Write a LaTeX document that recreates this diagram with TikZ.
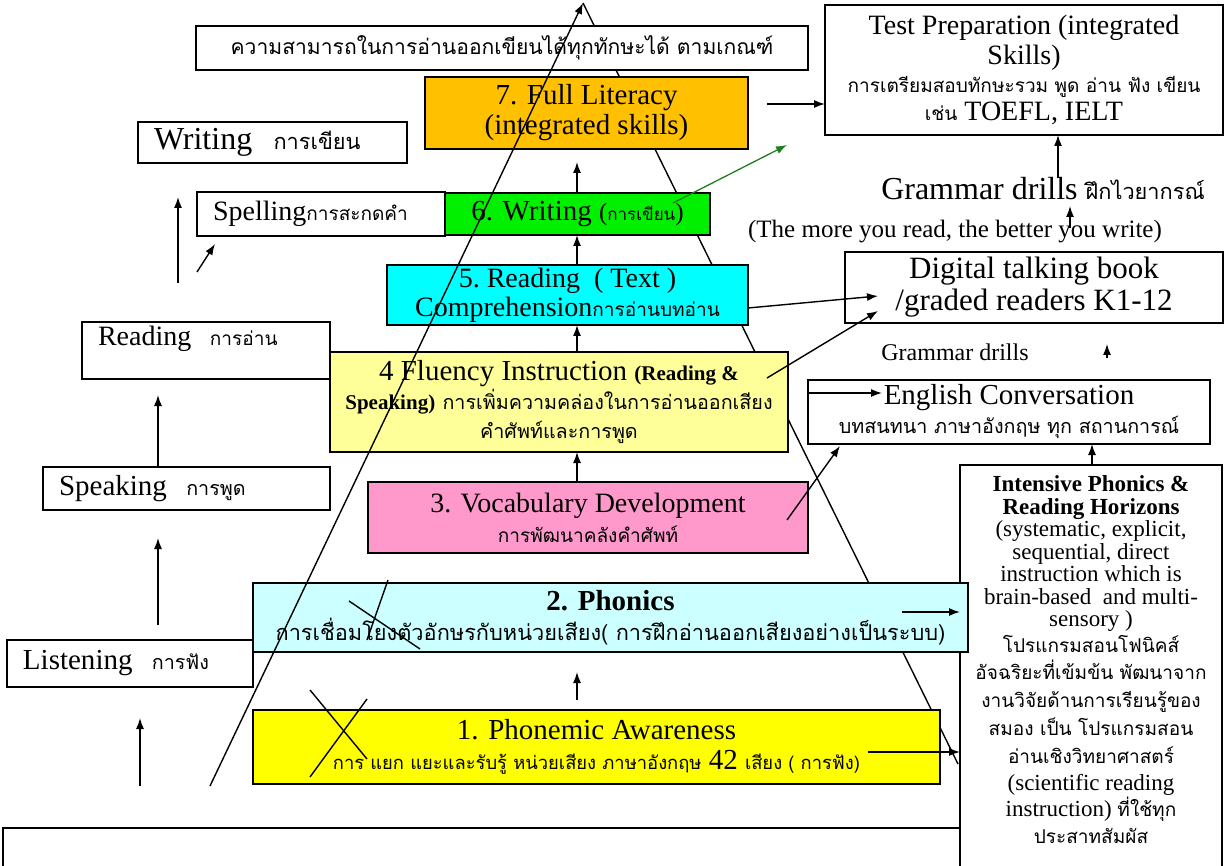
\documentclass[tikz,border=0pt]{standalone}
\usepackage{fontspec}
\setmainfont{Liberation Serif}
\newfontfamily\thaifont[Script=Thai,Scale=0.68]{Loma}
\newcommand{\thaiw}[1]{{\thaifont #1}}
\newcommand{\thaisz}[2]{{\fontsize{#1}{22.5}\selectfont\thaifont #2}}
\usetikzlibrary{arrows.meta}
\definecolor{litorange}{HTML}{FFC000}
\definecolor{writegreen}{HTML}{00F000}
\definecolor{readcyan}{HTML}{00FFFF}
\definecolor{fluentyellow}{HTML}{FFFF99}
\definecolor{vocabpink}{HTML}{FF99CC}
\definecolor{phonicsblue}{HTML}{CCFFFF}
\definecolor{phonemeyellow}{HTML}{FFFF00}
\definecolor{arrowgreen}{HTML}{1E7F1E}
\begin{document}
\begin{tikzpicture}[x=1pt,y=-1pt,>={Latex[length=11pt,width=8pt]},
    box/.style={draw, line width=1.5pt, inner sep=1pt, outer sep=0pt, align=center,
      font=\fontsize{28}{30}\selectfont},
    lbox/.style={box, fill=white, align=left, inner xsep=16pt},
    link/.style={->, line width=1.4pt},
    cross/.style={line width=1.4pt}]
  \useasboundingbox (0,0) rectangle (1226,866);
  \clip (0,0) rectangle (1226,866);

  % pyramid, right side sits behind the boxes
  \coordinate (apex) at (583,3);
  \coordinate (base) at (210,786);
  \coordinate (rfoot) at (958,764);
  \draw[line width=1.4pt] (apex) -- (rfoot);

  \node[box, fill=white, minimum width=612pt, minimum height=44pt, font=\fontsize{31}{34}\selectfont] (goal) at (502,48)
    {\thaiw{ความสามารถในการอ่านออกเขียนได้ทุกทักษะได้ ตามเกณฑ์}};
  \node[box, fill=white, minimum width=398pt, minimum height=130pt, font=\fontsize{28}{28}\selectfont] (testprep) at (1024,70)
    {Test Preparation (integrated\\[2pt]Skills)\\\thaiw{การเตรียมสอบทักษะรวม พูด อ่าน ฟัง เขียน}\\\thaiw{เช่น} TOEFL, IELT};
  \node[box, fill=litorange, minimum width=323pt, minimum height=72pt, font=\fontsize{29}{30}\selectfont] (fulllit) at (586.5,113)
    {7. Full Literacy\\(integrated skills)};
  \node[lbox, minimum width=269pt, minimum height=41pt, text width=237pt, font=\fontsize{32}{32}\selectfont] (writingL) at (272.5,142.5)
    {Writing\ \ \thaiw{การเขียน}};
  \node[lbox, minimum width=248pt, minimum height=44pt, text width=216pt] (spelling) at (321,214)
    {Spelling\thaiw{การสะกดคำ}};
  \node[box, fill=writegreen, minimum width=265pt, minimum height=42pt, font=\fontsize{29}{30}\selectfont] (writing6) at (577.5,214)
    {6. Writing {\fontsize{25}{30}\selectfont(\thaiw{การเขียน})}};
  \node[box, fill=readcyan, minimum width=361pt, minimum height=60pt, font=\fontsize{28}{29}\selectfont] (reading5) at (567.5,295)
    {5.\ Reading\ \ ( Text )\\Comprehension\thaiw{การอ่านบทอ่าน}};
  \node[box, fill=white, minimum width=378pt, minimum height=71pt, font=\fontsize{31}{32}\selectfont] (digital) at (1034,287.5)
    {Digital talking book\\/graded readers K1-12};
  \node[lbox, minimum width=248pt, minimum height=57pt, text width=216pt, text height=21pt, text depth=30pt] (readingL) at (206,350.5)
    {Reading\ \ \thaiw{การอ่าน}};
  \node[box, fill=fluentyellow, minimum width=458pt, minimum height=100pt, font=\fontsize{29}{29}\selectfont] (fluency) at (559,402)
    {4 Fluency Instruction {\bfseries\fontsize{21}{29}\selectfont(Reading \&}\\
     {\bfseries\fontsize{21}{29}\selectfont Speaking)} \thaiw{การเพิ่มความคล่องในการอ่านออกเสียง}\\
     \thaiw{คำศัพท์และการพูด}};
  \node[box, fill=white, minimum width=402pt, minimum height=64pt, font=\fontsize{29}{29}\selectfont] (english) at (1009,412)
    {English Conversation\\\thaiw{บทสนทนา ภาษาอังกฤษ ทุก สถานการณ์}};
  \node[lbox, minimum width=287pt, minimum height=43pt, text width=255pt, font=\fontsize{29}{30}\selectfont] (speaking) at (186.5,488.5)
    {Speaking\ \ \thaiw{การพูด}};
  \node[box, fill=vocabpink, minimum width=440pt, minimum height=71pt] (vocab) at (588,517.5)
    {3. Vocabulary Development\\\thaiw{การพัฒนาคลังคำศัพท์}};
  \node[box, fill=white, minimum width=262pt, minimum height=420pt] (intensive) at (1091,675) {};
  \node[align=center, inner sep=0pt, font=\fontsize{23}{22.5}\selectfont] (intensivetxt) at (1091,660)
    {\textbf{Intensive Phonics \&}\\\textbf{Reading Horizons}\\(systematic, explicit,\\sequential, direct\\
     instruction which is\\brain-based\ \ and multi-\\sensory )\\[3pt]
     \thaisz{28}{โปรแกรมสอนโฟนิคส์}\\[5pt]
     \thaisz{28}{อัจฉริยะที่เข้มข้น พัฒนาจาก}\\[5pt]
     \thaisz{28}{งานวิจัยด้านการเรียนรู้ของ}\\[5pt]
     \thaisz{28}{สมอง เป็น โปรแกรมสอน}\\[5pt]
     \thaisz{28}{อ่านเชิงวิทยาศาสตร์}\\[5pt]
     (scientific reading\\instruction) \thaisz{28}{ที่ใช้ทุก}\\[5pt]
     \thaisz{28}{ประสาทสัมผัส}};
  \node[box, fill=phonicsblue, minimum width=715pt, minimum height=69pt, font=\fontsize{29}{30}\selectfont] (phonics) at (610.5,617.5)
    {\textbf{2. Phonics}\\\thaisz{32}{การเชื่อมโยงตัวอักษรกับหน่วยเสียง( การฝึกอ่านออกเสียงอย่างเป็นระบบ)}};
  \node[lbox, minimum width=246pt, minimum height=47pt, text width=214pt, font=\fontsize{29}{30}\selectfont] (listening) at (130,663.5)
    {Listening\ \ \thaiw{การฟัง}};
  \node[box, fill=phonemeyellow, minimum width=687pt, minimum height=74pt, font=\fontsize{29}{30}\selectfont] (phonemic) at (596.5,747)
    {1. Phonemic Awareness\\\thaisz{27}{การ แยก แยะและรับรู้ หน่วยเสียง ภาษาอังกฤษ} 42 \thaisz{27}{เสียง ( การฟัง)}};
  \node[box, fill=white, minimum width=957pt, minimum height=50pt] (bottombox) at (481.5,853) {};

  \node[inner sep=0pt, font=\fontsize{32}{32}\selectfont] (grammar1) at (1043,189) {Grammar drills \thaiw{ฝึกไวยากรณ์}};
  \node[inner sep=0pt, font=\fontsize{25}{25}\selectfont] (more) at (955,232) {(The more you read, the better you write)};
  \node[inner sep=0pt, font=\fontsize{24}{24}\selectfont] (grammar2) at (955,352) {Grammar drills};

  % centre column
  \coordinate (colx) at (577,0);
  \draw[link, shorten <=10pt, shorten >=20pt] (phonemic.north -| colx) -- (phonics.south -| colx);
  \draw[link] (vocab.north -| colx) -- (fluency.south -| colx);
  \draw[link] (fluency.north -| colx) -- (reading5.south -| colx);
  \draw[link] (reading5.north -| colx) -- (writing6.south -| colx);
  \draw[link, shorten >=13pt] (writing6.north -| colx) -- (fulllit.south -| colx);

  % right side
  \coordinate (tp) at (767,104);
  \draw[link] (tp) -- (tp -| testprep.west);
  \coordinate (gs) at (673,203);
  \coordinate (ge) at (787,145);
  \draw[->, line width=1.3pt, draw=arrowgreen] (gs) -- (ge);
  \coordinate (gx) at (1058,0);
  \draw[link] (grammar1.north -| gx) -- (testprep.south -| gx);
  \coordinate (ma) at (1070,228);
  \coordinate (mb) at (1070,206);
  \draw[link] (ma) -- (mb);
  \coordinate (d1) at (878,296);
  \draw[link] (reading5.east |- 0,308) -- (d1);
  \coordinate (f1) at (767,378);
  \coordinate (d2) at (878,311);
  \draw[link] (f1) -- (d2);
  \coordinate (g2a) at (1107,358);
  \coordinate (g2b) at (1107,344);
  \draw[link] (g2a) -- (g2b);
  \coordinate (e1) at (882,393);
  \draw[link] (english.west |- e1) -- (e1);
  \coordinate (v1) at (787,520);
  \coordinate (v2) at (840,446);
  \draw[link] (v1) -- (v2);
  \coordinate (ix) at (1092,0);
  \draw[link] (intensive.north -| ix) -- (english.south -| ix);
  \coordinate (p1) at (902,612);
  \draw[link] (p1) -- (p1 -| intensive.west);
  \coordinate (p2) at (868,752);
  \draw[link] (p2) -- (p2 -| intensive.west);

  % left column
  \coordinate (lx) at (158,0);
  \draw[link, shorten <=15pt, shorten >=28pt] (listening.north -| lx) -- (speaking.south -| lx);
  \draw[link, shorten >=16pt] (speaking.north -| lx) -- (readingL.south -| lx);
  \coordinate (lb) at (140,786);
  \draw[link, shorten >=31pt] (lb) -- (lb |- listening.south);
  \coordinate (ux) at (178,0);
  \draw[link, shorten <=39pt, shorten >=34pt] (readingL.north -| ux) -- (writingL.south -| ux);
  \coordinate (s1) at (197,272);
  \coordinate (s2) at (215,244);
  \draw[link] (s1) -- (s2);

  % crossed out
  \draw[cross] (349,601) -- (420,649);
  \draw[cross] (388,580) -- (367,640);
  \draw[cross] (310,690) -- (367,759);
  \draw[cross] (367,699) -- (310,777);

  \draw[link] (base) -- (apex);
\end{tikzpicture}
\end{document}
